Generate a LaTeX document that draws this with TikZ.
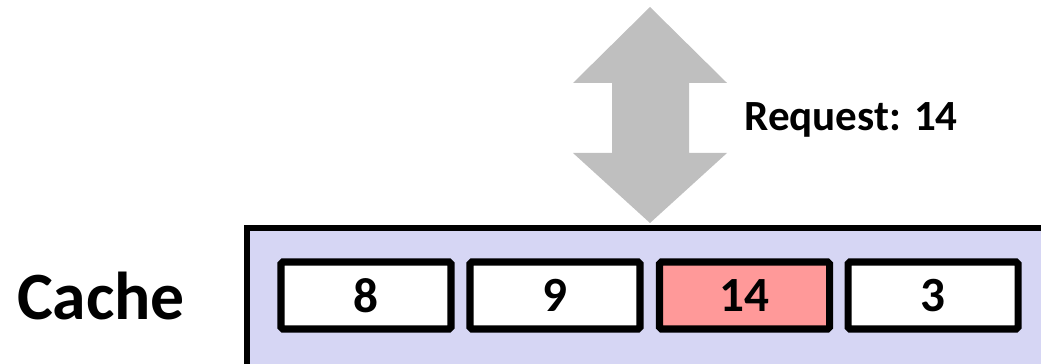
\documentclass[tikz,border=0pt]{standalone}
\usepackage{fontspec}
\setmainfont{Carlito}
\definecolor{cachebg}{HTML}{D6D6F4}
\definecolor{hitred}{HTML}{FF9999}
\definecolor{arrowgray}{HTML}{BFBFBF}
\tikzset{
  block/.style={draw=black, line width=4pt, fill=white, minimum width=3.4cm, minimum height=1.34cm, rounded corners=1pt, inner sep=0pt, font=\fontsize{28}{30}\selectfont\bfseries},
}
\begin{document}
\begin{tikzpicture}
  \useasboundingbox (0,0) rectangle (20.82,7.28);
  \clip (0,0) rectangle (20.82,7.28);

  % request arrow
  \fill[arrowgray] (13.0,7.14) -- (14.54,5.62) -- (13.78,5.62) -- (13.78,4.22) -- (14.54,4.22)
    -- (13.0,2.82) -- (11.46,4.22) -- (12.24,4.22) -- (12.24,5.62) -- (11.46,5.62) -- cycle;
  \node[anchor=base, font=\fontsize{24.5}{26}\selectfont\bfseries] (req) at (17.02,4.66) {Request: 14};

  % the cache
  \draw[fill=cachebg, line width=1.1mm] (4.94,2.72) rectangle (21.5,-0.5);
  \node[anchor=base, font=\fontsize{38.5}{40}\selectfont\bfseries] (cache) at (2.02,0.88) {Cache};

  \node[block] (b1) at (7.32,1.37) {8};
  \node[block] (b2) at (11.1,1.37) {9};
  \node[block, fill=hitred] (b3) at (14.89,1.37) {14};
  \node[block] (b4) at (18.66,1.37) {3};
\end{tikzpicture}
\end{document}
